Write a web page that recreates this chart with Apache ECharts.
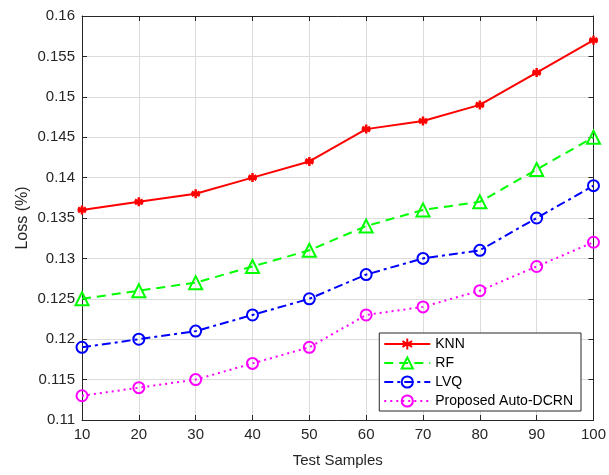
<!DOCTYPE html>
<html><head><meta charset="utf-8">
<script src="https://cdn.jsdelivr.net/npm/echarts@6/dist/echarts.min.js"></script>
<style>html,body{margin:0;padding:0;background:#fff}#c{width:609px;height:475px}</style>
</head><body><div id="c"></div>
<script>
const samples = [10,20,30,40,50,60,70,80,90,100];
const knn  = [0.136,0.137,0.138,0.140,0.142,0.146,0.147,0.149,0.153,0.157];
const rf   = [0.125,0.126,0.127,0.129,0.131,0.134,0.136,0.137,0.141,0.145];
const lvq  = [0.119,0.120,0.121,0.123,0.125,0.128,0.130,0.131,0.135,0.139];
const dcrn = [0.113,0.114,0.115,0.117,0.119,0.123,0.124,0.126,0.129,0.132];
const names = ['KNN','RF','LVQ','Proposed Auto-DCRN'];

const font = 'Liberation Sans, Arial, sans-serif';
const axisCol = '#262626';
const pair = (arr) => samples.map((x,i)=>[x,arr[i]]);
const asterisk = 'path://M0,-10L0,10M-8.66,-5L8.66,5M-8.66,5L8.66,-5M-10,0L10,0';

const chart = echarts.init(document.getElementById('c'));
const baseX = {type:'value',min:10,max:100,interval:10,
  axisLine:{show:true,onZero:false,lineStyle:{color:axisCol,width:1}},
  axisTick:{show:true,inside:true,length:5,lineStyle:{color:axisCol}},
  splitLine:{show:false}};
const baseY = {type:'value',min:0.11,max:0.16,interval:0.005,
  axisLine:{show:true,onZero:false,lineStyle:{color:axisCol,width:1}},
  axisTick:{show:true,inside:true,length:5,lineStyle:{color:axisCol}},
  splitLine:{show:false}};
chart.setOption({
  animation:false,
  backgroundColor:'#fff',
  grid:{left:82,right:13,top:16,bottom:55,containLabel:false},
  xAxis:[
    Object.assign({}, baseX, {position:'bottom',
      name:'Test Samples',nameLocation:'middle',nameGap:33,nameMoveOverlap:false,
      nameTextStyle:{fontFamily:font,fontSize:15,color:axisCol},
      axisLabel:{fontFamily:font,fontSize:15,color:axisCol,margin:7},
      splitLine:{show:true,lineStyle:{color:'#dcdcdc',width:1}}}),
    Object.assign({}, baseX, {position:'top',axisLabel:{show:false}})
  ],
  yAxis:[
    Object.assign({}, baseY, {position:'left',
      name:'Loss (%)',nameLocation:'middle',nameGap:51,nameRotate:90,nameMoveOverlap:false,
      nameTextStyle:{fontFamily:font,fontSize:16,color:axisCol},
      axisLabel:{fontFamily:font,fontSize:15,color:axisCol,margin:7,
        formatter:v=>String(+v.toFixed(3))},
      splitLine:{show:true,lineStyle:{color:'#dcdcdc',width:1}}}),
    Object.assign({}, baseY, {position:'right',axisLabel:{show:false}})
  ],
  legend:{
    orient:'vertical',right:28,bottom:64,
    backgroundColor:'#fff',borderColor:axisCol,borderWidth:1,borderRadius:0,
    padding:[4,8,3,4],itemGap:5,itemWidth:46,itemHeight:14,
    textStyle:{fontFamily:font,fontSize:14,color:'#000'},
    data:names
  },
  series:[
    {name:names[0],type:'line',data:pair(knn),
     symbol:asterisk,symbolSize:9,color:'#ff0000',
     lineStyle:{color:'#ff0000',width:2,type:'solid'},
     itemStyle:{color:'#ff0000',borderColor:'#ff0000',borderWidth:2.5}},
    {name:names[1],type:'line',data:pair(rf),
     symbol:'triangle',symbolSize:13,color:'#00ff00',
     lineStyle:{color:'#00ff00',width:2,type:[9,6]},
     itemStyle:{color:'rgba(0,0,0,0)',borderColor:'#00ff00',borderWidth:2}},
    {name:names[2],type:'line',data:pair(lvq),
     symbol:'circle',symbolSize:11,color:'#0000ff',
     lineStyle:{color:'#0000ff',width:2,type:[9,4,3,4]},
     itemStyle:{color:'rgba(0,0,0,0)',borderColor:'#0000ff',borderWidth:2}},
    {name:names[3],type:'line',data:pair(dcrn),
     symbol:'circle',symbolSize:11,color:'#ff00ff',
     lineStyle:{color:'#ff00ff',width:2,type:[2,4]},
     itemStyle:{color:'rgba(0,0,0,0)',borderColor:'#ff00ff',borderWidth:2}}
  ]
});
</script></body></html>
